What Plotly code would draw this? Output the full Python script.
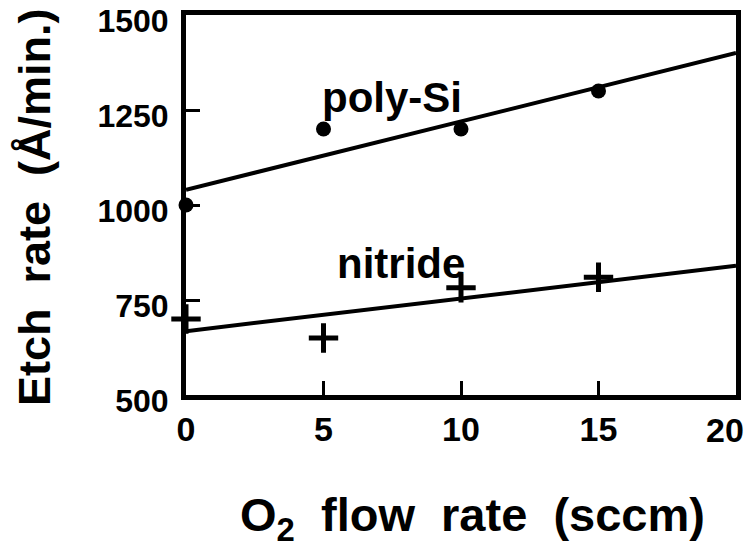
import plotly.graph_objects as go

o2_flow = [0, 5, 10, 15]
poly_si = [1000, 1200, 1200, 1300]
nitride = [700, 650, 782, 810]
fit_x = [0, 20]
poly_fit = [1040, 1400]
nitride_fit = [668, 840]

x_ticks = [0, 5, 10, 15, 20]
y_ticks = [500, 750, 1000, 1250, 1500]

FONT = "Liberation Sans"
SP = "\u00a0\u00a0"

fig = go.Figure()
fig.add_trace(go.Scatter(x=fit_x, y=poly_fit, mode="lines",
                         line=dict(color="black", width=4), cliponaxis=False))
fig.add_trace(go.Scatter(x=fit_x, y=nitride_fit, mode="lines",
                         line=dict(color="black", width=4), cliponaxis=False))
fig.add_trace(go.Scatter(x=o2_flow, y=poly_si, mode="markers",
                         marker=dict(symbol="circle", size=15, color="black"),
                         cliponaxis=False))
fig.add_trace(go.Scatter(x=o2_flow, y=nitride, mode="markers",
                         marker=dict(symbol="cross-thin", size=21, color="black",
                                     line=dict(color="black", width=5)),
                         cliponaxis=False))

fig.add_annotation(x=7.5, y=1284, text="<b>poly-Si</b>", showarrow=False,
                   font=dict(family=FONT, size=42, color="black"))
fig.add_annotation(x=7.8, y=845, text="<b>nitride</b>", showarrow=False,
                   font=dict(family=FONT, size=42, color="black"))

# axis titles
fig.add_annotation(xref="paper", yref="paper", x=(472 - 186) / 550, y=(395 - 518) / 380,
                   text="<b>O<sub>2</sub>" + SP + "flow" + SP + "rate" + SP + "(sccm)</b>",
                   showarrow=False, xanchor="center", yanchor="middle",
                   font=dict(family=FONT, size=47, color="black"))
fig.add_annotation(xref="paper", yref="paper", x=(34 - 186) / 550, y=(395 - 207) / 380,
                   text="<b>Etch" + SP + "rate" + SP + "(Å/min.)</b>", textangle=-90,
                   showarrow=False, xanchor="center", yanchor="middle",
                   font=dict(family=FONT, size=45, color="black"))

# last x tick label, placed flush with the right edge like the reference
fig.add_annotation(xref="x", yref="paper", x=x_ticks[-1], y=(395 - 430) / 380,
                   text=str(x_ticks[-1]), showarrow=False, xanchor="right",
                   yanchor="middle", xshift=10,
                   font=dict(family=FONT, size=34, color="black", weight="bold"))

axis_common = dict(showgrid=False, zeroline=False, showline=True, linecolor="black",
                   linewidth=5, mirror=True, ticks="inside", ticklen=14, tickwidth=3,
                   tickcolor="black", ticklabeloverflow="allow", automargin=False)

fig.update_xaxes(range=[0, 20], tickvals=x_ticks,
                 ticktext=[str(v) for v in x_ticks[:-1]] + [""],
                 tickfont=dict(family=FONT, size=34, color="black", weight="bold"),
                 **axis_common)
fig.update_yaxes(range=[500, 1500], tickvals=y_ticks, ticktext=[str(v) for v in y_ticks],
                 tickfont=dict(family=FONT, size=32, color="black", weight="bold"),
                 ticklabelstandoff=6, ticklabelshift=6,
                 **axis_common)

fig.update_layout(width=747, height=547, showlegend=False,
                  paper_bgcolor="white", plot_bgcolor="white",
                  margin=dict(l=186, r=11, t=15, b=152))

fig.write_html("out.html")
